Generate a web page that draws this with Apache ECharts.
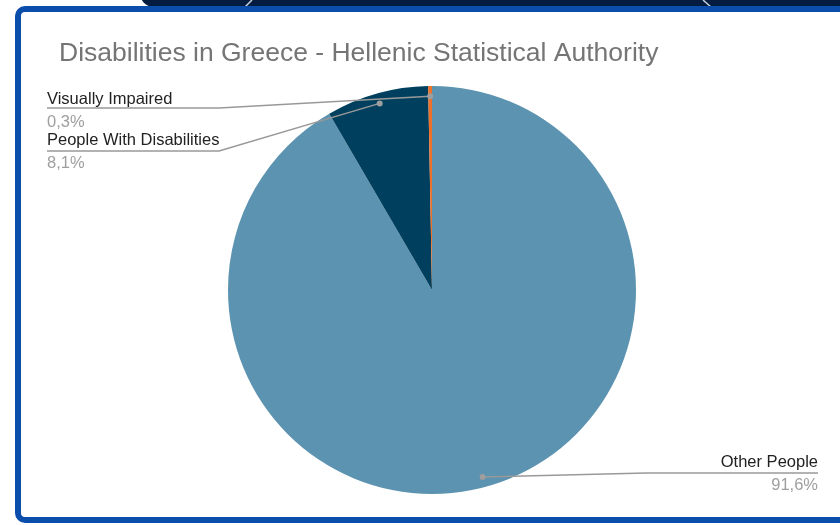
<!DOCTYPE html>
<html>
<head>
<meta charset="utf-8">
<script src="https://cdn.jsdelivr.net/npm/echarts@6/dist/echarts.min.js"></script>
<style>
  html, body { margin: 0; padding: 0; background: #fff; }
  #chart { width: 840px; height: 525px; }
</style>
</head>
<body>
<div id="chart"></div>
<script>
// data
const categories = ['Other People', 'People With Disabilities', 'Visually Impaired'];
const shares = [91.6, 8.1, 0.3];
const sliceColors = ['#5b93b0', '#00405e', '#ef7028'];

// layout
const cx = 432, cy = 290, R = 204;
const FONT = 'Liberation Sans, Arial, sans-serif';
// side of each label, middle of its two text lines, and y of its underline
const labelSpots = [
  { side: 'right', y: 474, line: 473 },
  { side: 'left', y: 152, line: 151 },
  { side: 'left', y: 111, line: 108 }
];
const leftX = 47, rightX = 818, underline = 172;

const total = shares.reduce((a, b) => a + b, 0);

function midAngle(i) {
  let before = 0;
  for (let k = 0; k < i; k++) before += shares[k];
  return (before + shares[i] / 2) / total * 2 * Math.PI;
}
// point a bit inside the rim, where the leader line starts
function anchor(i) {
  const a = midAngle(i);
  return [cx + 0.95 * R * Math.sin(a), cy - 0.95 * R * Math.cos(a)];
}
function pct(v) {
  return v.toFixed(1).replace('.', ',') + '%';
}

const pieBase = {
  type: 'pie',
  center: [cx, cy],
  radius: R,
  startAngle: 90,
  clockwise: true,
  emphasis: { disabled: true }
};
const clear = 'rgba(0,0,0,0)';
const seeThrough = () => categories.map((c, i) => ({ name: c, value: shares[i], itemStyle: { color: clear } }));

const chart = echarts.init(document.getElementById('chart'));

const option = {
  animation: false,
  title: {
    text: 'Disabilities in Greece - Hellenic Statistical Authority',
    left: 54,
    top: 35,
    textStyle: { fontSize: 26.5, fontWeight: 'normal', color: '#757575', fontFamily: FONT }
  },
  graphic: [
    // dark strip of the page above the frame
    { type: 'rect', z: 1, shape: { x: 140, y: -30, width: 740, height: 37, r: 14 }, style: { fill: '#051c41' } },
    { type: 'line', z: 2, shape: { x1: 252, y1: 0, x2: 245, y2: 7 }, style: { stroke: '#c9d3e0', lineWidth: 1.5 } },
    { type: 'line', z: 2, shape: { x1: 703, y1: 0, x2: 711, y2: 7 }, style: { stroke: '#c9d3e0', lineWidth: 1.5 } },
    // blue frame
    { type: 'rect', z: 3, shape: { x: 18, y: 9, width: 840, height: 511, r: 7 }, style: { fill: 'none', stroke: '#0b4dab', lineWidth: 6 } }
  ],
  series: [
    Object.assign({}, pieBase, {
      z: 2,
      data: categories.map((c, i) => ({ name: c, value: shares[i], itemStyle: { color: sliceColors[i] } })),
      label: { show: false },
      labelLine: { show: false }
    }),
    // labels and leader lines, drawn above the slices
    Object.assign({}, pieBase, {
      z: 5,
      silent: true,
      data: seeThrough(),
      label: {
        show: true,
        position: 'outside',
        formatter: p => '{n|' + p.name + '}\n{v|' + pct(p.value) + '}',
        rich: {
          n: { fontSize: 16.5, color: '#222', lineHeight: 23.5, fontFamily: FONT },
          v: { fontSize: 16.5, color: '#9e9e9e', lineHeight: 23.5, fontFamily: FONT }
        }
      },
      labelLine: { show: true, lineStyle: { color: '#999', width: 1.5 } },
      labelLayout: function (p) {
        const s = labelSpots[p.dataIndex];
        const left = s.side === 'left';
        const x0 = left ? leftX : rightX;
        const x1 = left ? leftX + underline : rightX - underline;
        return {
          x: x0,
          y: s.y,
          align: left ? 'left' : 'right',
          verticalAlign: 'middle',
          labelLinePoints: [anchor(p.dataIndex), [x1, s.line], [x0, s.line]]
        };
      }
    }),
    // small dots where the leader lines start
    Object.assign({}, pieBase, {
      z: 6,
      silent: true,
      data: seeThrough(),
      label: {
        show: true,
        position: 'inside',
        formatter: ' ',
        fontSize: 1,
        width: 6,
        height: 6,
        padding: 0,
        backgroundColor: '#9e9e9e',
        borderRadius: 3
      },
      labelLine: { show: false },
      labelLayout: function (p) {
        const a = anchor(p.dataIndex);
        return { x: a[0], y: a[1], align: 'center', verticalAlign: 'middle' };
      }
    })
  ]
};

chart.setOption(option);
</script>
</body>
</html>
